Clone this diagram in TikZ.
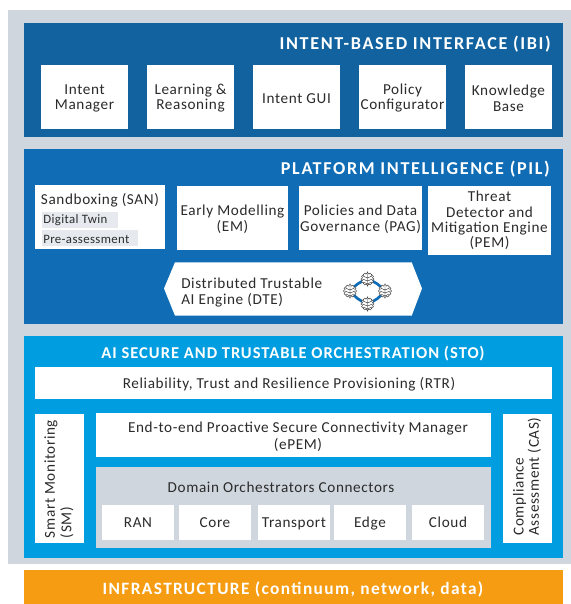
\documentclass[tikz,border=0pt]{standalone}
\usepackage{fontspec}
\usetikzlibrary{calc}
\setmainfont{Carlito}[LetterSpace=4.1]
\definecolor{frame}{HTML}{CFD6DE}
\definecolor{ibiblue}{HTML}{11629F}
\definecolor{pilblue}{HTML}{0F6CB5}
\definecolor{stoblue}{HTML}{009EE0}
\definecolor{infra}{HTML}{F59C12}
\definecolor{ink}{HTML}{2B2B2B}
\definecolor{chip}{HTML}{E6EAEE}
\tikzset{
 x=0.75pt,y=-0.75pt,
 wbox/.style={fill=white,text=ink,align=center,inner sep=0pt,font=\fontsize{11.4}{11.4}\selectfont},
 txt/.style={wbox,fill=none},
 oneline/.style={text height=7.5pt,text depth=2pt},
 band/.style={text=white,font=\fontsize{12.4}{14}\selectfont\bfseries\addfontfeatures{LetterSpace=6},inner sep=0pt},
 bandbig/.style={band,font=\fontsize{13.6}{14}\selectfont\bfseries\addfontfeatures{LetterSpace=9}},
 bandmid/.style={band,font=\fontsize{13}{14}\selectfont\bfseries\addfontfeatures{LetterSpace=8}},
 chiptxt/.style={text=ink,inner sep=0pt,font=\fontsize{9.6}{10}\selectfont\addfontfeatures{LetterSpace=3},anchor=west},
 brainlink/.style={draw=pilblue,line width=2pt},
 brain/.style={circle,minimum size=11.5pt,inner sep=0pt},
}
% name, x0,y0,x1,y1, options, text (the box is drawn first, then its text)
\newcommand{\bx}[7]{\node[wbox,minimum width=#4*0.75pt-#2*0.75pt,minimum height=#5*0.75pt-#3*0.75pt,#6] (#1) at ({(#2+#4)/2},{(#3+#5)/2}) {};
 \node[txt,#6] at (#1.center) [yshift=-0.9pt] {#7};}
\newcommand{\lobes}[1]{%
 \foreach \ang in {0,30,...,330}{\draw[ink,fill=white,line width=0.3pt] ($(#1.center)+(\ang:3.9pt)$) circle[radius=1.1pt];}
 \fill[white] (#1.center) circle[radius=3.9pt];
 \draw[ink,line width=0.3pt] (#1.north) -- (#1.south)
   ($(#1.center)+(-4.5,-3)$) -- ++(4.5,2) -- ++(4.5,-2)
   ($(#1.center)+(-5,0)$) -- ++(5,2) -- ++(5,-2)
   ($(#1.center)+(-4,3)$) -- ++(4,2) -- ++(4,-2);}
\begin{document}
\begin{tikzpicture}
\useasboundingbox (0,0) rectangle (571,604);
\fill[frame] (8,10) rectangle (571,563.5);
\fill[ibiblue] (24,23) rectangle (563,136.7);
\fill[pilblue] (24,149) rectangle (563,323.7);
\fill[stoblue] (24,336) rectangle (563,558);
\fill[infra] (24,570) rectangle (563,604);
\node[bandbig,anchor=east] (ibit) at (551,44.5) {INTENT-BASED INTERFACE (IBI)};
\node[bandbig,anchor=east] (pilt) at (550,169.5) {PLATFORM INTELLIGENCE (PIL)};
\node[band] (stot) at (293,353.5) {AI SECURE AND TRUSTABLE ORCHESTRATION (STO)};
\node[bandmid] (inft) at (293,589.5) {INFRASTRUCTURE (continuum, network, data)};
\bx{a}{41}{65}{128}{129}{}{Intent\\Manager}
\bx{b}{147}{65}{234}{129}{}{Learning \&\\Reasoning}
\bx{c}{253}{65}{340}{129}{}{Intent GUI}
\bx{d}{359}{65}{446}{129}{}{Policy\\Configurator}
\bx{e}{465}{65}{552}{129}{}{Knowledge\\Base}
\bx{san}{35}{185}{165}{249}{}{}
\node[txt,anchor=center] (sant) at (100,200) {Sandboxing (SAN)};
\fill[chip] (42,212) rectangle (118,228);
\fill[chip] (42,230) rectangle (138,246);
\node[chiptxt] (dt) at (43,220) {Digital Twin};
\node[chiptxt] (pa) at (43,239) {Pre-assessment};
\bx{em}{177}{186}{288}{250}{}{Early Modelling\\(EM)}
\bx{pag}{299}{186}{422}{250}{}{Policies and Data\\Governance (PAG)}
\node[wbox,minimum width=92.25pt,minimum height=51.75pt] (pem) at (489.5,220.5) {Threat\\Detector and\\Mitigation Engine\\(PEM)};
\fill[white] (175,262.3) -- (411.7,262.3) -- (422,288.5) -- (411.7,315.7) -- (175,315.7) -- (164,288.5) -- cycle;
\node[txt,align=left,anchor=west] (dte) at (181,292.5) {Distributed Trustable\\AI Engine (DTE)};
\node[brain] (b1) at (367.5,279) {};
\node[brain] (b2) at (385,291) {};
\node[brain] (b3) at (367.5,304) {};
\node[brain] (b4) at (350,291) {};
\draw[brainlink] (b1.center) to[bend left=14] (b2.center);
\draw[brainlink] (b2.center) to[bend left=14] (b3.center);
\draw[brainlink] (b3.center) to[bend left=14] (b4.center);
\draw[brainlink] (b4.center) to[bend left=14] (b1.center);
\lobes{b1}\lobes{b2}\lobes{b3}\lobes{b4}
\bx{rtr}{35}{367}{552}{399}{}{}
\node[txt] (rtrt) at (289,384) {Reliability, Trust and Resilience Provisioning (RTR)};
\bx{sm}{35}{414}{84}{543}{}{}
\node[txt,rotate=90,align=left] (smt) at (59,479) {Smart Monitoring\\[1pt](SM)};
\bx{epem}{96}{413}{491}{457}{}{}
\node[txt] (epemt) at (298,436.5) {End-to-end Proactive Secure Connectivity Manager\\[1.5pt](ePEM)};
\fill[frame] (96,467) rectangle (491,548);
\node[txt] (dom) at (281,487) {Domain Orchestrators Connectors};
\bx{ran}{102}{505}{174}{540}{oneline}{RAN}
\bx{core}{179}{505}{251}{540}{oneline}{Core}
\bx{tr}{258}{505}{330}{540}{oneline}{Transport}
\bx{edge}{334}{505}{406}{540}{oneline}{Edge}
\bx{cloud}{412}{505}{484}{540}{oneline}{Cloud}
\bx{cas}{503}{414}{552}{543}{}{}
\node[txt,rotate=90,align=left] (cast) at (527,476.5) {Compliance\\Assessment (CAS)};
\end{tikzpicture}
\end{document}
